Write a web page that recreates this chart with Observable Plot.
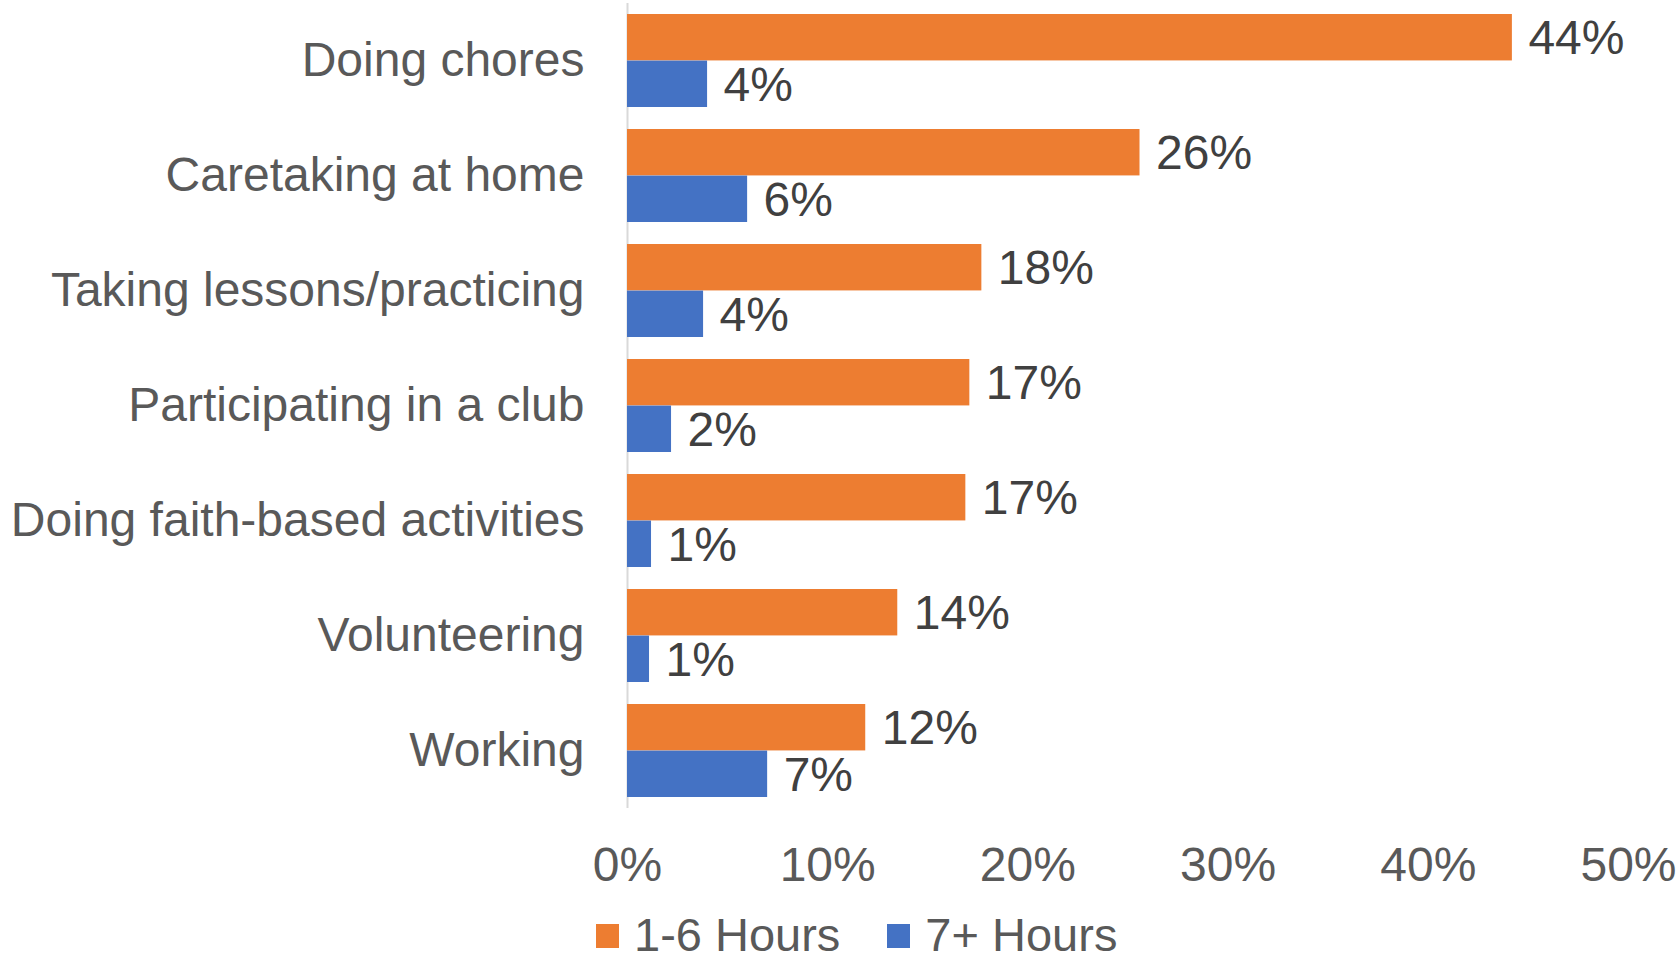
<!DOCTYPE html>
<html>
<head>
<meta charset="utf-8">
<script src="https://cdn.jsdelivr.net/npm/d3@7"></script>
<script src="https://cdn.jsdelivr.net/npm/@observablehq/plot@0.6"></script>
<style>
  html, body { margin: 0; padding: 0; background: #fff; }
  #chart svg { display: block; }
  .legend { display: flex; align-items: center; height: 40px; line-height: 40px; margin-top: 10px; margin-left: 596px;
    font-family: "Liberation Sans", Arial, sans-serif; font-size: 47px; color: #595959; }
  .legend .item { display: flex; align-items: center; margin-right: 47px; }
  .legend .sw { width: 23px; height: 24px; margin-right: 15px; margin-top: 2px; }
</style>
</head>
<body>
<div id="chart"></div>
<div class="legend" id="legend"></div>
<script>
const categories = ["Doing chores", "Caretaking at home", "Taking lessons/practicing",
  "Participating in a club", "Doing faith-based activities", "Volunteering", "Working"];
const hours1to6 = [44.2, 25.6, 17.7, 17.1, 16.9, 13.5, 11.9];
const hours7plus = [4.0, 6.0, 3.8, 2.2, 1.2, 1.1, 7.0];
const seriesNames = ["1-6 Hours", "7+ Hours"];
const seriesColors = ["#ED7D31", "#4472C4"];
const xTicks = [0, 10, 20, 30, 40, 50];

const data1 = categories.map((c, i) => ({category: c, value: hours1to6[i]}));
const data2 = categories.map((c, i) => ({category: c, value: hours7plus[i]}));

const W = 1678, H = 905, mTop = 3, mBottom = 97;
const padIn = 0.19, padOut = 0.095;
const step = (H - mTop - mBottom) / (categories.length - padIn + 2 * padOut);
const bw = step * (1 - padIn);
const half = bw / 2;

const fmt = d => Math.round(d.value) + "%";

const chart = Plot.plot({
  width: W, height: H,
  marginLeft: 627, marginRight: 50, marginTop: mTop, marginBottom: mBottom,
  style: {fontFamily: "'Liberation Sans', Arial, sans-serif", fontSize: "48px", color: "#595959", background: "white"},
  x: {domain: [0, 50], ticks: xTicks, tickFormat: d => d + "%", tickSize: 0, tickPadding: 38, label: null},
  y: {domain: categories, paddingInner: padIn, paddingOuter: padOut, tickSize: 0, tickPadding: 43, label: null},
  marks: [
    Plot.ruleX([0], {stroke: "#d9d9d9", strokeWidth: 2}),
    Plot.barX(data1, {x: "value", y: "category", fill: seriesColors[0], insetBottom: half}),
    Plot.barX(data2, {x: "value", y: "category", fill: seriesColors[1], insetTop: half}),
    Plot.text(data1, {x: "value", y: "category", text: fmt, textAnchor: "start", dx: 16, dy: -half / 2 + 1, fontSize: 48, fill: "#404040"}),
    Plot.text(data2, {x: "value", y: "category", text: fmt, textAnchor: "start", dx: 16, dy: half / 2 + 1, fontSize: 48, fill: "#404040"})
  ]
});
document.getElementById("chart").appendChild(chart);

const legend = document.getElementById("legend");
seriesNames.forEach((name, i) => {
  const item = document.createElement("div");
  item.className = "item";
  const sw = document.createElement("span");
  sw.className = "sw";
  sw.style.background = seriesColors[i];
  const t = document.createElement("span");
  t.textContent = name;
  item.appendChild(sw);
  item.appendChild(t);
  legend.appendChild(item);
});
</script>
</body>
</html>
